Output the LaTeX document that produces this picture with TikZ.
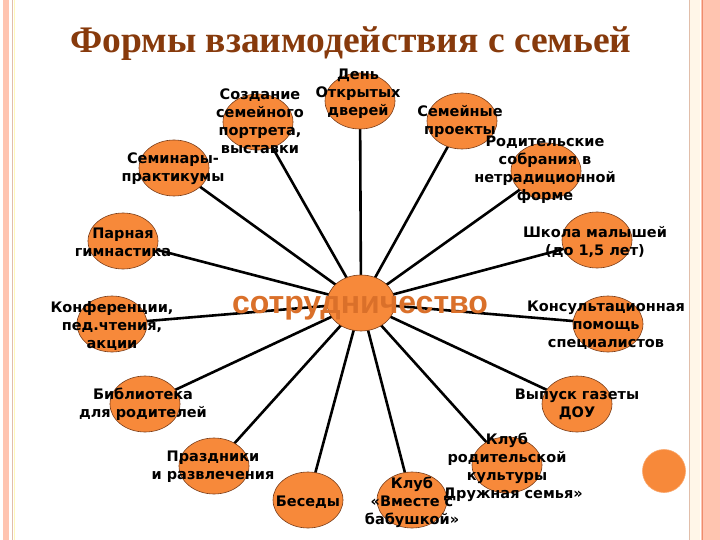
\documentclass[tikz,border=0pt]{standalone}
\usepackage{fontspec}
\setmainfont{DejaVu Sans}
\newfontfamily\titlefont{Liberation Serif}
\newfontfamily\coopfont{Liberation Sans}
\usetikzlibrary{shapes.geometric,backgrounds}
\definecolor{orfill}{RGB}{247,137,58}
\definecolor{orline}{RGB}{120,60,25}
\definecolor{coop}{RGB}{218,112,42}
\definecolor{titlec}{RGB}{135,58,12}
\definecolor{stripe}{RGB}{255,196,176}
\definecolor{stripedark}{RGB}{238,140,110}
\definecolor{cream}{RGB}{255,246,232}
\definecolor{stripeline}{RGB}{225,190,170}
\tikzset{
 blob/.style={ellipse, fill=orfill, draw=orline, line width=0.6pt, minimum width=70pt, minimum height=56pt, inner sep=0pt},
 lab/.style={font=\bfseries\fontsize{14.5}{18}\selectfont, align=center, text=black, inner sep=0pt},
 spoke/.style={line width=2.6pt, black},
}
\begin{document}
\begin{tikzpicture}[x=1pt,y=-1pt]
\useasboundingbox (0,0) rectangle (720,540);
% ellipses
\node[blob, minimum width=68pt] (c) at (361,303) {};
\node[blob] (e1) at (360,101) {};
\node[blob] (e2) at (258,122) {};
\node[blob] (e3) at (174,168) {};
\node[blob] (e4) at (462,121) {};
\node[blob] (e5) at (546,171) {};
\node[blob] (e6) at (597,240) {};
\node[blob] (e7) at (608,324) {};
\node[blob] (e8) at (577,404) {};
\node[blob] (e9) at (507,465) {};
\node[blob] (e10) at (412,500) {};
\node[blob] (e11) at (308,500) {};
\node[blob] (e12) at (214,466) {};
\node[blob] (e13) at (145,404) {};
\node[blob] (e14) at (112,324) {};
\node[blob] (e15) at (123,241) {};
\node[circle, fill=orfill, draw=orfill!75!white, line width=0.6pt, minimum size=43pt, inner sep=0pt] (dot) at (664,471) {};
% labels
\node[lab] (t1) at (358,94) {День\\Открытых\\дверей};
\node[lab] (t2) at (260,121) {Создание\\семейного\\портрета,\\выставки};
\node[lab] (t3) at (173,169) {Семинары-\\практикумы};
\node[lab] (t4) at (460,121) {Семейные\\проекты};
\node[lab] (t5) at (545,170) {Родительские\\собрания в\\нетрадиционной\\форме};
\node[lab] (t6) at (595,242) {Школа малышей\\(до 1,5 лет)};
\node[lab] (t7) at (606,325) {Консультационная\\помощь\\специалистов};
\node[lab] (t8) at (577,404) {Выпуск газеты\\ДОУ};
\node[lab] (t9) at (507,467) {Клуб\\родительской\\культуры\\\hspace*{12pt}Дружная семья»};
\node[lab] (t10) at (412,502) {Клуб\\«Вместе с\\бабушкой»};
\node[lab] (t11) at (308,502) {Беседы};
\node[lab] (t12) at (213,467) {Праздники\\и развлечения};
\node[lab] (t13) at (143,404) {Библиотека\\для родителей};
\node[lab] (t14) at (112,326) {Конференции,\\пед.чтения,\\акции};
\node[lab] (t15) at (123,242) {Парная\\гимнастика};
\node[font=\coopfont\bfseries\fontsize{32}{32}\selectfont, text=coop, inner sep=0pt, anchor=base] (tc) at (360,313) {сотрудничество};
\node[font=\titlefont\bfseries\fontsize{37.5}{37.5}\selectfont, text=titlec, inner sep=0pt, anchor=base] (title) at (351,53) {Формы взаимодействия с семьей};
% background: page, border, spokes
\begin{pgfonlayer}{background}
\fill[white] (0,0) rectangle (720,540);
\fill[stripe] (3,0) rectangle (9,540);
\draw[stripeline, line width=0.8pt] (12,0) -- (12,540);
\draw[cream!80!yellow, line width=0.8pt] (14.5,0) -- (14.5,540);
\draw[stripeline, line width=1pt] (689,0) -- (689,540);
\fill[cream] (690,0) rectangle (700,540);
\fill[stripe] (701,0) rectangle (720,540);
\draw[stripedark, line width=1pt] (702,0) -- (702,540);
\foreach \i in {1,...,15} {\draw[spoke] (c.center) -- (e\i.center);}
\end{pgfonlayer}
\end{tikzpicture}
\end{document}
